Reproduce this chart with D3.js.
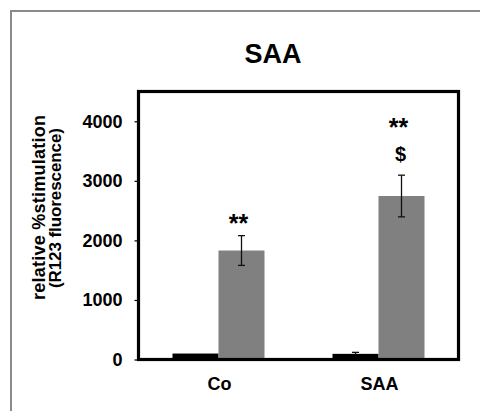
<!DOCTYPE html>
<html>
<head>
<meta charset="utf-8">
<script src="https://cdn.jsdelivr.net/npm/d3@7"></script>
<style>
  html, body { margin: 0; padding: 0; background: #fff; }
  svg { display: block; font-family: Arial, "Liberation Sans", sans-serif; }
</style>
</head>
<body>
<svg id="chart" width="480" height="411"></svg>
<script>
// ---- data ----
const categories = ["Co", "SAA"];
const seriesNames = ["control", "stimulated"];
const controlValues = [100, 95];
const controlErrors = [10, 25];
const stimValues = [1830, 2745];
const stimErrors = [250, 350];
const annotations = [["**"], ["**", "$"]];
const yTicks = [0, 1000, 2000, 3000, 4000];
const title = "SAA";
const yLabelLines = ["relative %stimulation", "(R123 fluorescence)"];
const seriesColors = ["#000000", "#808080"];

// ---- layout ----
const svg = d3.select("#chart");
const plot = { left: 138.5, right: 458.5, top: 91.5, bottom: 359.5 };

// outer frame (partial)
svg.append("path")
  .attr("d", "M11,411V11H480")
  .attr("fill", "none")
  .attr("stroke", "#8a8a8a")
  .attr("stroke-width", 2);

const x = d3.scaleBand().domain(categories).range([plot.left, plot.right]).padding(0);
const xSub = d3.scaleBand().domain(seriesNames).range([0, x.bandwidth()])
  .paddingInner(0).paddingOuter(0.739);
const y = d3.scaleLinear().domain([0, 4500]).range([plot.bottom, plot.top]);

// title
svg.append("text")
  .attr("x", 273).attr("y", 63)
  .attr("text-anchor", "middle")
  .attr("font-size", 27).attr("font-weight", "bold")
  .text(title);

// y axis label
const yl = svg.append("g");
yl.append("text")
  .attr("transform", "translate(45,207.5) rotate(-90)")
  .attr("text-anchor", "middle")
  .attr("font-size", 18).attr("font-weight", "bold")
  .attr("textLength", 185).attr("lengthAdjust", "spacing")
  .text(yLabelLines[0]);
yl.append("text")
  .attr("transform", "translate(61,208) rotate(-90)")
  .attr("text-anchor", "middle")
  .attr("font-size", 17).attr("font-weight", "bold")
  .attr("textLength", 160).attr("lengthAdjust", "spacing")
  .text(yLabelLines[1]);

// y axis
const yAxis = d3.axisLeft(y).tickValues(yTicks).tickSize(4).tickPadding(12).tickFormat(d3.format("d"));
const gy = svg.append("g").attr("transform", `translate(${plot.left},0)`).call(yAxis);
gy.select(".domain").remove();
gy.selectAll(".tick line").attr("stroke", "#000").attr("stroke-width", 1.2);
gy.selectAll(".tick text")
  .attr("font-size", 18).attr("font-weight", "bold").attr("fill", "#000")
  .attr("font-family", "Arial, 'Liberation Sans', sans-serif");

// bars
const rows = categories.map((c, i) => ({
  cat: c,
  items: [
    { s: seriesNames[0], v: controlValues[i], e: controlErrors[i], color: seriesColors[0] },
    { s: seriesNames[1], v: stimValues[i], e: stimErrors[i], color: seriesColors[1] }
  ],
  ann: annotations[i]
}));

const groups = svg.append("g").selectAll("g").data(rows).join("g")
  .attr("transform", d => `translate(${x(d.cat)},0)`);

groups.selectAll("rect").data(d => d.items).join("rect")
  .attr("x", d => xSub(d.s))
  .attr("width", xSub.bandwidth())
  .attr("y", d => y(d.v))
  .attr("height", d => y(0) - y(d.v))
  .attr("fill", d => d.color);

// error bars
const capW = 7;
groups.selectAll("g.err").data(d => d.items.filter(it => it.s === seriesNames[1] || it.e > 15)).join("g")
  .attr("class", "err")
  .each(function(d) {
    const g = d3.select(this);
    const cx = xSub(d.s) + xSub.bandwidth() / 2;
    const col = "#111";
    g.append("line").attr("x1", cx).attr("x2", cx)
      .attr("y1", y(d.v + d.e)).attr("y2", y(Math.max(0, d.v - d.e)))
      .attr("stroke", col).attr("stroke-width", 1.3);
    g.append("line").attr("x1", cx - capW / 2).attr("x2", cx + capW / 2)
      .attr("y1", y(d.v + d.e)).attr("y2", y(d.v + d.e))
      .attr("stroke", col).attr("stroke-width", 1.3);
    if (d.s === seriesNames[1]) {
      g.append("line").attr("x1", cx - capW / 2).attr("x2", cx + capW / 2)
        .attr("y1", y(d.v - d.e)).attr("y2", y(d.v - d.e))
        .attr("stroke", col).attr("stroke-width", 1.3);
    }
  });

// annotations above stimulated bars
groups.each(function(d) {
  const g = d3.select(this);
  const it = d.items[1];
  const cx = xSub(it.s) + xSub.bandwidth() / 2;
  const top = y(it.v + it.e);
  const n = d.ann.length;
  d.ann.forEach((a, k) => {
    const level = n - 1 - k;
    if (a === "$") {
      g.append("text").attr("x", cx - 1).attr("y", top - 14 - level * 26)
        .attr("text-anchor", "middle").attr("font-size", 20).attr("font-weight", "bold")
        .text(a);
    } else {
      const base = n === 1 ? top - 4 : top - 14 - 25;
      g.append("text").attr("x", cx - 3).attr("y", base)
        .attr("text-anchor", "middle").attr("font-size", 25).attr("font-weight", "bold")
        .text(a);
    }
  });
});

// category labels
svg.append("g").selectAll("text").data(categories).join("text")
  .attr("x", d => x(d) + x.bandwidth() / 2 + 1)
  .attr("y", 390)
  .attr("text-anchor", "middle")
  .attr("font-size", 18).attr("font-weight", "bold")
  .text(d => d);

// plot frame
svg.append("rect")
  .attr("x", plot.left).attr("y", plot.top)
  .attr("width", plot.right - plot.left).attr("height", plot.bottom - plot.top)
  .attr("fill", "none").attr("stroke", "#000").attr("stroke-width", 3.2);
</script>
</body>
</html>
